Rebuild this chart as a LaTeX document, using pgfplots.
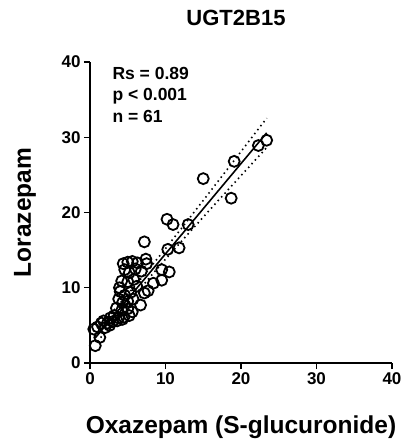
\documentclass[border=0pt]{standalone}
\usepackage{pgfplots}
\pgfplotsset{compat=1.18}
\usepackage{fontspec}
\setmainfont{Liberation Sans}
\begin{document}
\begin{tikzpicture}
\path[use as bounding box] (-90pt,-83pt) rectangle (314pt,363pt);
\begin{axis}[
  at={(0pt,0pt)}, anchor=south west,
  scale only axis, width=302pt, height=301pt,
  xmin=0, xmax=40, ymin=0, ymax=40,
  axis lines*=left,
  axis line style={line width=1.4pt},
  xtick={0,10,20,30,40}, ytick={0,10,20,30,40},
  tick align=outside, major tick length=6pt,
  tick style={line width=1.4pt, black},
  minor tick num=0,
  clip=false,
  /pgf/number format/assume math mode=true,
  ticklabel style={font=\fontsize{17}{20}\selectfont\bfseries},
  xlabel={Oxazepam (S-glucuronide)},
  ylabel={Lorazepam},
  xlabel style={at={(axis description cs:0.5,-0.2126)}, anchor=center, font=\fontsize{24.5}{28}\selectfont\bfseries},
  ylabel style={at={(axis description cs:-0.2152,0.5)}, anchor=center, font=\fontsize{24.5}{28}\selectfont\bfseries},
]
\addplot[only marks, mark=o, mark size=5.5pt, mark options={line width=1.8pt, black}] coordinates {
(23.4,29.6) (22.3,28.9) (19.1,26.8) (15.0,24.5) (18.7,21.9)
(13.0,18.4) (10.2,19.1) (11.0,18.4) (7.2,16.1) (10.3,15.1)
(11.8,15.3) (7.4,13.8) (7.5,13.2) (9.5,12.4) (10.5,12.1)
(9.5,11.0) (8.4,10.6) (7.7,9.6) (7.2,9.3) (6.7,7.7)
(4.4,13.2) (5.0,13.4) (5.6,13.5) (6.3,13.3) (4.6,12.4)
(5.2,12.0) (4.2,10.9) (5.0,10.8) (5.8,11.1) (6.2,10.2)
(4.0,9.5) (4.6,9.0) (5.4,9.4) (3.8,8.5) (4.3,8.0)
(5.0,8.2) (5.7,8.5) (3.5,7.3) (4.2,7.0) (5.0,7.2)
(5.6,6.8) (3.2,6.3) (3.8,6.0) (4.5,6.1) (5.2,6.3)
(2.7,6.0) (3.0,5.5) (3.6,5.6) (4.3,5.8) (2.3,5.3)
(1.8,5.6) (1.5,5.3) (1.0,4.8) (0.5,4.5) (2.0,4.7)
(2.6,5.0) (1.3,3.4) (0.7,2.3) (6.0,12.5) (3.9,10.0)
(6.8,12.2)
};
\addplot[black, line width=1.6pt] coordinates {(0.7,3.34) (23.4,30.58)};
\addplot[black, line width=1.6pt, dash pattern=on 1.5pt off 3.5pt] coordinates {
(1,4.55) (3,6.81) (5,9.12) (6.5,10.9) (8,12.72) (10,15.21) (12,17.75) (14,20.32) (16,22.9) (18,25.5) (20,28.1) (22,30.71) (23.4,32.53)};
\addplot[black, line width=1.6pt, dash pattern=on 1.5pt off 3.5pt] coordinates {
(1,2.85) (3,5.39) (5,7.88) (6.5,9.7) (8,11.48) (10,13.79) (12,16.05) (14,18.28) (16,20.5) (18,22.7) (20,24.9) (22,27.09) (23.4,28.63)};
\end{axis}
\node[font=\fontsize{22}{26}\selectfont\bfseries] at (146pt,345pt) {UGT2B15};
\node[font=\fontsize{17.5}{21}\selectfont\bfseries, anchor=base west] at (19pt,283pt) {Rs = 0.89};
\node[font=\fontsize{17.5}{21}\selectfont\bfseries, anchor=base west] at (19pt,262pt) {p < 0.001};
\node[font=\fontsize{17.5}{21}\selectfont\bfseries, anchor=base west] at (19pt,240pt) {n = 61};
\end{tikzpicture}
\end{document}
